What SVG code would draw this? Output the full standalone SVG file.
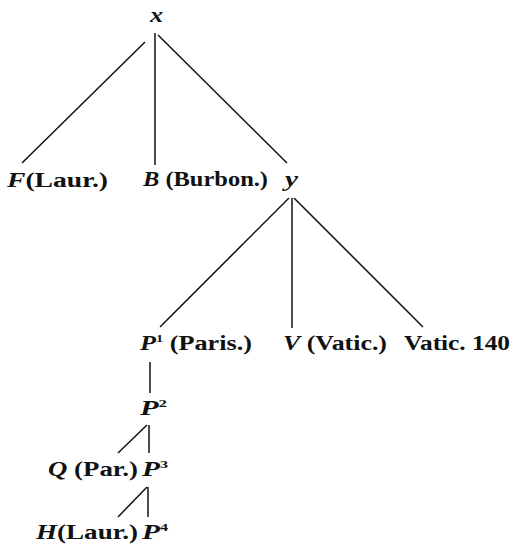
<svg xmlns="http://www.w3.org/2000/svg" width="513" height="544" viewBox="0 0 513 544">
<style>
text{font-family:"Liberation Serif","Times New Roman",serif;font-weight:bold;font-size:20px;fill:#111}
.i{font-style:italic}
.s{font-size:11px}
#connectors line{stroke:#111;stroke-width:1.5;fill:none}
</style>
<rect width="513" height="544" fill="#fff"/>
<g id="connectors">
<line x1="145" y1="42" x2="22" y2="163"/>
<line x1="155" y1="33" x2="155" y2="165"/>
<line x1="158" y1="35" x2="287" y2="163"/>
<line x1="289" y1="198" x2="160" y2="327"/>
<line x1="292" y1="198" x2="292" y2="328"/>
<line x1="294" y1="198" x2="423" y2="327"/>
<line x1="150" y1="362" x2="150" y2="393"/>
<line x1="147" y1="425" x2="118" y2="453"/>
<line x1="149" y1="425" x2="149" y2="453"/>
<line x1="147" y1="487" x2="118" y2="517"/>
<line x1="148" y1="487" x2="148" y2="517"/>
</g>
<g id="node-x"><text x="150" y="22" class="i" textLength="13" lengthAdjust="spacingAndGlyphs">x</text></g>
<g id="node-F"><text x="7" y="187" textLength="101" lengthAdjust="spacingAndGlyphs"><tspan class="i">F</tspan>(Laur.)</text></g>
<g id="node-B"><text x="143" y="186" textLength="125" lengthAdjust="spacingAndGlyphs"><tspan class="i">B</tspan> (Burbon.)</text></g>
<g id="node-y"><text x="285" y="186" class="i" textLength="13" lengthAdjust="spacingAndGlyphs">y</text></g>
<g id="node-P1"><text x="140" y="350" textLength="112" lengthAdjust="spacingAndGlyphs"><tspan class="i">P</tspan><tspan class="s" dy="-8">1</tspan><tspan dy="8"> (Paris.)</tspan></text></g>
<g id="node-V"><text x="283" y="350" textLength="104" lengthAdjust="spacingAndGlyphs"><tspan class="i">V</tspan> (Vatic.)</text></g>
<g id="node-Vatic140"><text x="404" y="350" textLength="106" lengthAdjust="spacingAndGlyphs">Vatic. 140</text></g>
<g id="node-P2"><text x="140" y="415" textLength="27" lengthAdjust="spacingAndGlyphs"><tspan class="i">P</tspan><tspan class="s" dy="-8">2</tspan></text></g>
<g id="node-Q"><text x="48" y="476" textLength="90" lengthAdjust="spacingAndGlyphs"><tspan class="i">Q</tspan> (Par.)</text></g>
<g id="node-P3"><text x="142" y="476" textLength="26" lengthAdjust="spacingAndGlyphs"><tspan class="i">P</tspan><tspan class="s" dy="-8">3</tspan></text></g>
<g id="node-H"><text x="36" y="539" textLength="102" lengthAdjust="spacingAndGlyphs"><tspan class="i">H</tspan>(Laur.)</text></g>
<g id="node-P4"><text x="142" y="539" textLength="26" lengthAdjust="spacingAndGlyphs"><tspan class="i">P</tspan><tspan class="s" dy="-8">4</tspan></text></g>
</svg>
